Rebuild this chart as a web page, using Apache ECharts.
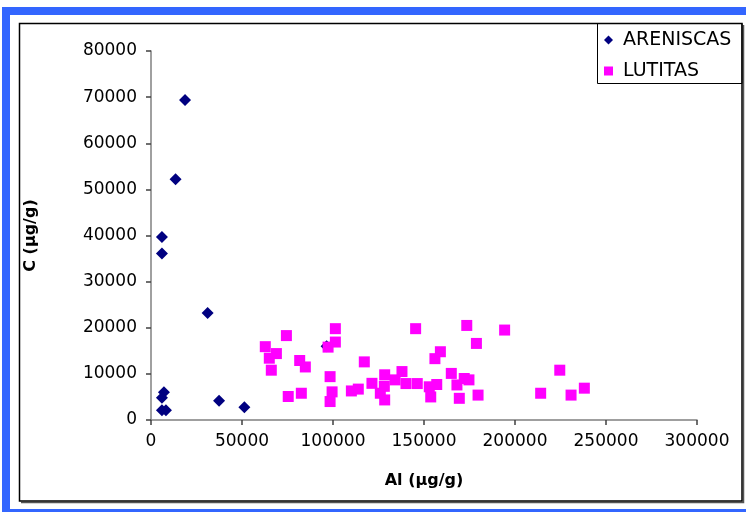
<!DOCTYPE html>
<html>
<head>
<meta charset="utf-8">
<script src="https://cdn.jsdelivr.net/npm/echarts@6/dist/echarts.min.js"></script>
<style>
  html, body { margin: 0; padding: 0; background: #fff; }
  #chart { width: 746px; height: 512px; }
</style>
</head>
<body>
<div id="chart"></div>
<script>
// ---- data ----
const seriesNames = ['ARENISCAS', 'LUTITAS'];
const xAxisTitle = 'Al (µg/g)';
const yAxisTitle = 'C (µg/g)';

const areniscasAl = [18700, 13500, 6000, 6000, 31100, 7100, 6000, 6000, 8200, 37400, 51300, 96500];
const areniscasC  = [69400, 52200, 39700, 36100, 23200, 6000, 4850, 2100, 2100, 4200, 2750, 16000];

const lutitasAl = [62800, 65000, 68900, 66100, 74400, 81700, 84800, 75400, 82600, 97300,
                   101300, 101300, 98400, 99500, 98400, 117200, 110100, 113900, 121400, 128400,
                   126000, 128400, 128200, 134100, 137900, 140100, 145400, 146300, 152900, 156000,
                   153700, 157000, 173500, 194300, 178800, 159000, 165000, 172100, 174700, 168100,
                   169400, 179700, 214100, 224600, 230800, 238100];
const lutitasC  = [15900, 13400, 14400, 10800, 18300, 12900, 11500, 5100, 5800, 15800,
                   19800, 16900, 9400, 6100, 4000, 12600, 6300, 6700, 7950, 9800,
                   5800, 4350, 7300, 8700, 10500, 7900, 19800, 7900, 7200, 13300,
                   5000, 7700, 20500, 19500, 16600, 14800, 10100, 9000, 8700, 7600,
                   4700, 5400, 5800, 10800, 5400, 6900];

const xMin = 0, xMax = 300000, xStep = 50000;
const yMin = 0, yMax = 80000, yStep = 10000;

// ---- build ----
const pairs = (xs, ys) => xs.map((x, i) => [x, ys[i]]);
const FONT = 'DejaVu Sans';
const plain = v => String(v);

const chart = echarts.init(document.getElementById('chart'), null, { renderer: 'canvas' });
chart.setOption({
  animation: false,
  backgroundColor: '#ffffff',
  grid: { left: 151, top: 51, right: 49, bottom: 92, containLabel: false },
  graphic: [
    { type: 'rect', z: 0, silent: true,
      shape: { x: 6, y: 11, width: 760, height: 502 },
      style: { fill: null, stroke: '#3366FF', lineWidth: 8 } },
    { type: 'polyline', z: 0, silent: true,
      shape: { points: [[743.5, 25], [743.5, 502.5], [21, 502.5]] },
      style: { fill: null, stroke: '#555555', lineWidth: 1.5 } },
    { type: 'rect', z: 0, silent: true,
      shape: { x: 19.5, y: 23.5, width: 722.5, height: 477.5 },
      style: { fill: null, stroke: '#000000', lineWidth: 1.5 } },
    { type: 'rect', z: 0, silent: true,
      shape: { x: 597.5, y: 23.5, width: 144.5, height: 60 },
      style: { fill: null, stroke: '#000000', lineWidth: 1 } }
  ],
  legend: {
    orient: 'vertical',
    left: 604, top: 30,
    itemWidth: 9, itemHeight: 9, itemGap: 11,
    padding: 0,
    data: [
      { name: seriesNames[0], icon: 'diamond' },
      { name: seriesNames[1], icon: 'rect' }
    ],
    textStyle: { fontFamily: FONT, fontSize: 19, color: '#000', lineHeight: 20, padding: [0, 0, 0, 5] }
  },
  xAxis: {
    type: 'value', min: xMin, max: xMax, interval: xStep,
    name: xAxisTitle, nameLocation: 'middle', nameGap: 53,
    nameTextStyle: { fontFamily: FONT, fontSize: 16, fontWeight: 'bold', color: '#000' },
    axisLine: { show: true, onZero: false, lineStyle: { color: '#808080', width: 1.5 } },
    axisTick: { show: true, length: 5, lineStyle: { color: '#404040', width: 1.5 } },
    axisLabel: { fontFamily: FONT, fontSize: 17, color: '#000', margin: 13, formatter: plain },
    splitLine: { show: false }
  },
  yAxis: {
    type: 'value', min: yMin, max: yMax, interval: yStep,
    name: yAxisTitle, nameLocation: 'middle', nameGap: 112, nameRotate: 90,
    nameTextStyle: { fontFamily: FONT, fontSize: 16, fontWeight: 'bold', color: '#000' },
    axisLine: { show: true, onZero: false, lineStyle: { color: '#808080', width: 1.5 } },
    axisTick: { show: true, length: 5, lineStyle: { color: '#404040', width: 1.5 } },
    axisLabel: { fontFamily: FONT, fontSize: 17, color: '#000', margin: 14, formatter: plain },
    splitLine: { show: false }
  },
  series: [
    { name: seriesNames[0], type: 'scatter', symbol: 'diamond', symbolSize: 12,
      itemStyle: { color: '#000080', opacity: 1 }, data: pairs(areniscasAl, areniscasC) },
    { name: seriesNames[1], type: 'scatter', symbol: 'rect', symbolSize: 11,
      itemStyle: { color: '#FF00FF', opacity: 1 }, data: pairs(lutitasAl, lutitasC) }
  ]
});
</script>
</body>
</html>
